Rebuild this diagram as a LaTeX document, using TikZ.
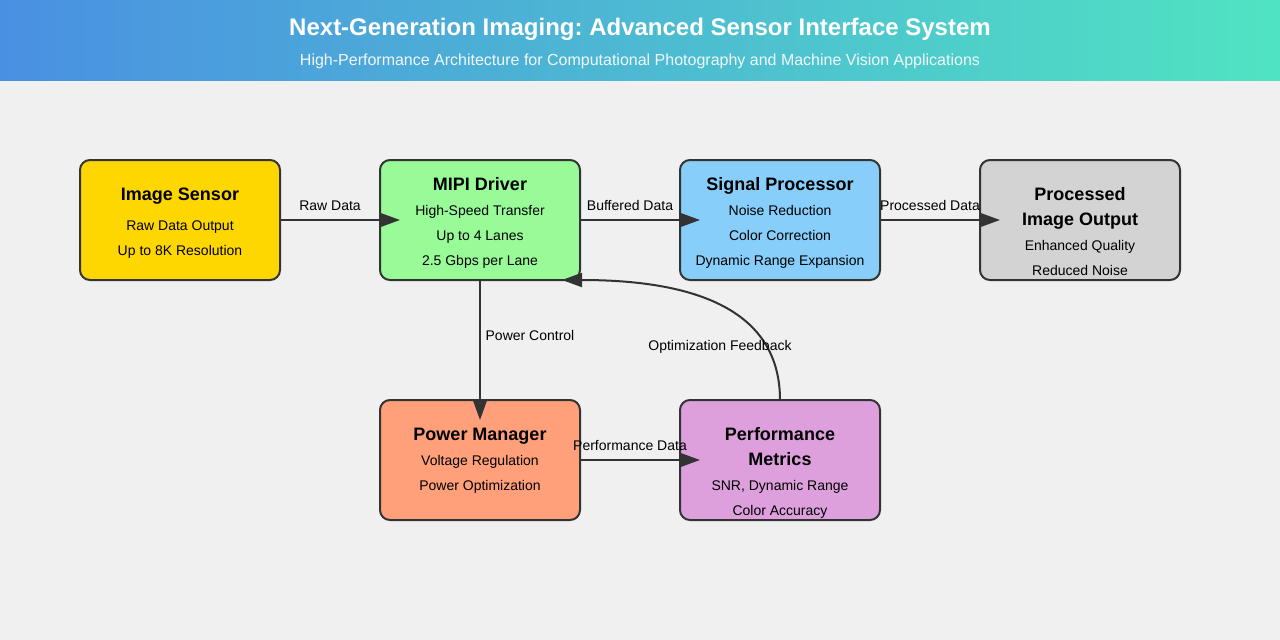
\documentclass[tikz,border=0pt]{standalone}
\usepackage{fontspec}
\setmainfont{Liberation Sans}
\frenchspacing
\usetikzlibrary{arrows.meta,calc}
\definecolor{bg}{HTML}{F0F0F0}
\definecolor{hdA}{HTML}{4A90E2}
\definecolor{hdB}{HTML}{50E3C2}
\definecolor{edge}{HTML}{333333}
\definecolor{cSensor}{HTML}{FFD700}
\definecolor{cMipi}{HTML}{98FB98}
\definecolor{cSignal}{HTML}{87CEFA}
\definecolor{cOut}{HTML}{D3D3D3}
\definecolor{cPower}{HTML}{FFA07A}
\definecolor{cPerf}{HTML}{DDA0DD}
\tikzset{
  box/.style={draw=edge, line width=2pt, rounded corners=10pt, minimum width=200pt, minimum height=120pt, inner sep=0pt, outer sep=0pt},
  ttl/.style={anchor=base, inner sep=0pt, font=\fontsize{18}{20}\selectfont\bfseries, text=black},
  txt/.style={anchor=base, inner sep=0pt, font=\fontsize{14}{16}\selectfont, text=black},
  lbl/.style={anchor=base, inner sep=0pt, font=\fontsize{14}{16}\selectfont, text=black},
  arr/.style={draw=edge, line width=2pt, -{Triangle[length=20pt,width=14pt]}},
}
\begin{document}
\begin{tikzpicture}[x=1pt,y=-1pt]
\useasboundingbox (0,0) rectangle (1280,640);
\fill[bg] (0,0) rectangle (1280,640);
\shade[left color=hdA, right color=hdB] (0,0) rectangle (1280,80);
\node[anchor=base, inner sep=0pt, text=white, font=\fontsize{24}{28}\selectfont\bfseries] (title) at (640,35) {Next-Generation Imaging: Advanced Sensor Interface System};
\node[anchor=base, inner sep=0pt, text=white, text opacity=0.92, font=\fontsize{16}{18}\selectfont] (subtitle) at (640,65) {High-Performance Architecture for Computational Photography and Machine Vision Applications};

% boxes
\node[box, fill=cSensor] (sensor) at (180,220) {};
\node[box, fill=cMipi] (mipi) at (480,220) {};
\node[box, fill=cSignal] (signal) at (780,220) {};
\node[box, fill=cOut] (out) at (1080,220) {};
\node[box, fill=cPower] (power) at (480,460) {};
\node[box, fill=cPerf] (perf) at (780,460) {};

% box texts
\node[ttl] (sensorT) at (180,200) {Image Sensor};
\node[txt] (sensorL1) at (180,230) {Raw Data Output};
\node[txt] (sensorL2) at (180,255) {Up to 8K Resolution};

\node[ttl] (mipiT) at (480,190) {MIPI Driver};
\node[txt] (mipiL1) at (480,215) {High-Speed Transfer};
\node[txt] (mipiL2) at (480,240) {Up to 4 Lanes};
\node[txt] (mipiL3) at (480,265) {2.5 Gbps per Lane};

\node[ttl] (signalT) at (780,190) {Signal Processor};
\node[txt] (signalL1) at (780,215) {Noise Reduction};
\node[txt] (signalL2) at (780,240) {Color Correction};
\node[txt] (signalL3) at (780,265) {Dynamic Range Expansion};

\node[ttl] (outT1) at (1080,200) {Processed};
\node[ttl] (outT2) at (1080,225) {Image Output};
\node[txt] (outL1) at (1080,250) {Enhanced Quality};
\node[txt] (outL2) at (1080,275) {Reduced Noise};

\node[ttl] (powerT) at (480,440) {Power Manager};
\node[txt] (powerL1) at (480,465) {Voltage Regulation};
\node[txt] (powerL2) at (480,490) {Power Optimization};

\node[ttl] (perfT1) at (780,440) {Performance};
\node[ttl] (perfT2) at (780,465) {Metrics};
\node[txt] (perfL1) at (780,490) {SNR, Dynamic Range};
\node[txt] (perfL2) at (780,515) {Color Accuracy};

% connectors
\draw[arr, shorten >=-20pt] (sensor.east) -- (mipi.west);
\draw[arr, shorten >=-20pt] (mipi.east) -- (signal.west);
\draw[arr, shorten >=-20pt] (signal.east) -- (out.west);
\draw[arr, shorten >=-20pt] (mipi.south) -- (power.north);
\draw[arr, shorten >=-20pt] (power.east |- perf.west) -- (perf.west);
\coordinate (fbend) at ($(mipi.south east)+(-18,0)$);
\draw[arr] (perf.north) .. controls (780,320) and (713,280) .. (fbend);

% connector labels
\node[lbl] (l1) at (330,210) {Raw Data};
\node[lbl] (l2) at (630,210) {Buffered Data};
\node[lbl] (l3) at (930,210) {Processed Data};
\node[lbl] (l4) at (530,340) {Power Control};
\node[lbl] (l5) at (630,450) {Performance Data};
\node[lbl] (l6) at (720,350) {Optimization Feedback};
\end{tikzpicture}
\end{document}
